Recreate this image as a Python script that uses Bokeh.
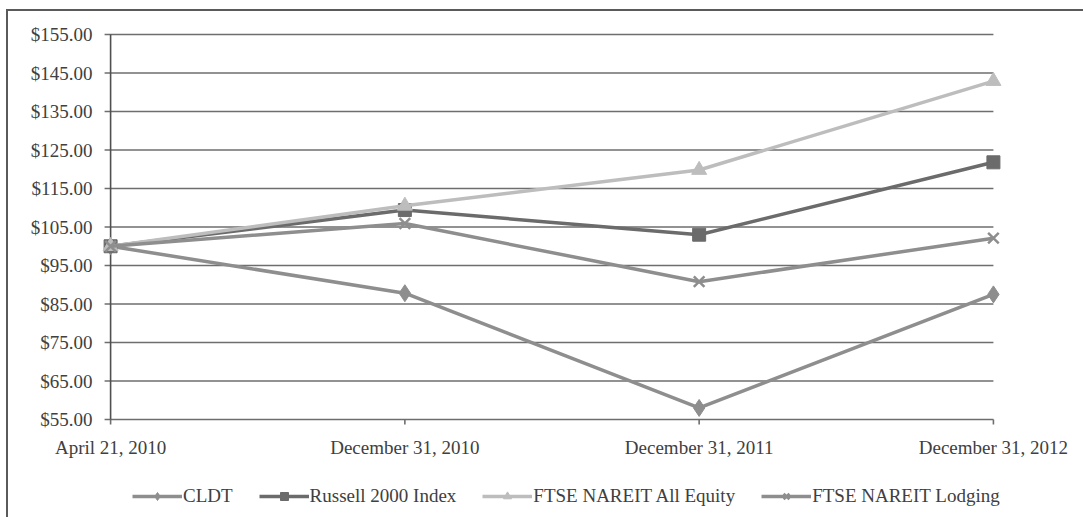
from bokeh.plotting import figure
from bokeh.models import Range1d, Legend, LegendItem
from bokeh.core.properties import value
from bokeh.embed import file_html
from bokeh.resources import INLINE

# ---- data ----
dates = ["April 21, 2010", "December 31, 2010", "December 31, 2011", "December 31, 2012"]
cldt = [100.00, 87.80, 58.00, 87.50]
russell = [100.00, 109.40, 103.00, 121.80]
ftse_equity = [100.00, 110.50, 119.80, 142.90]
ftse_lodging = [100.00, 105.90, 90.80, 102.10]
y_ticks = [55, 65, 75, 85, 95, 105, 115, 125, 135, 145, 155]
y_tick_labels = ["$%.2f" % v for v in y_ticks]

x = list(range(len(dates)))
Y0, Y1 = y_ticks[0], y_ticks[-1]

FONT = "Liberation Serif"
TXT = "#404040"
GRID = "#6e6e6e"

PXX = 294.0   # px per category step
PXY = 3.85    # px per dollar
LEFT = 102 / PXX
RIGHT = 90 / PXX
TICK = 6 / PXX
BELOW = 98 / PXY  # frame extends below the $55 line to hold labels and legend
ABOVE = 23 / PXY  # room above the $155 line for its label

p = figure(frame_width=1075, frame_height=506, output_backend="svg", toolbar_location=None,
           x_range=Range1d(-LEFT, 3 + RIGHT), y_range=Range1d(Y0 - BELOW, Y1 + ABOVE),
           min_border_left=0, min_border_right=0, min_border_top=0, min_border_bottom=0)
p.margin = (9, 0, 0, 6)
p.styles = {"border-left": "2px solid #5a5a5a", "border-top": "2px solid #5a5a5a"}
p.outline_line_color = None
p.background_fill_color = "white"
p.border_fill_color = "white"
p.xgrid.visible = False
p.ygrid.visible = False
p.xaxis.visible = False
p.yaxis.visible = False

# gridlines (with outer tick stubs) drawn from the tick list
p.segment(x0=[-TICK] * len(y_ticks), x1=[3] * len(y_ticks), y0=y_ticks, y1=y_ticks,
          line_color=GRID, line_width=1.6)
# vertical value axis line
p.segment(x0=[0], x1=[0], y0=[Y0], y1=[Y1], line_color="#505050", line_width=1.6)
# value labels
p.text(x=[0] * len(y_ticks), y=y_ticks, text=y_tick_labels, x_offset=-18, text_align="right",
       text_baseline="middle", text_font=value(FONT), text_font_size="19px", text_color=TXT)
# category tick marks below the base line
p.segment(x0=x, x1=x, y0=[Y0] * len(x), y1=[Y0 - 5 / PXY] * len(x), line_color=GRID, line_width=1.6)
# category labels
p.text(x=x, y=[Y0] * len(x), text=dates, y_offset=17, text_align="center", text_baseline="top",
       text_font=value(FONT), text_font_size="19px", text_color=TXT)

series = [
    ("CLDT", cldt, "#8e8e8e", "diamond", 17),
    ("Russell 2000 Index", russell, "#6b6b6b", "square", 13),
    ("FTSE NAREIT All Equity", ftse_equity, "#bdbdbd", "triangle", 15),
    ("FTSE NAREIT Lodging", ftse_lodging, "#8e8e8e", "x", 15),
]
items = []
for name, vals, col, mk, sz in series:
    r1 = p.line(x, vals, line_color=col, line_width=3.5)
    r2 = p.scatter(x, vals, marker=mk, size=sz, fill_color=col, line_color=col,
                   line_width=2.5 if mk == "x" else 1)
    items.append(LegendItem(label=name, renderers=[r1, r2]))

legend = Legend(items=items, orientation="horizontal", location=(124, 10),
                glyph_width=50, glyph_height=20, label_standoff=1, spacing=26,
                label_text_font=FONT, label_text_font_size="19px", label_text_color=TXT,
                border_line_color=None, background_fill_alpha=0, padding=2, margin=0)
p.add_layout(legend, "center")

open("out.html", "w").write(file_html(p, INLINE))
